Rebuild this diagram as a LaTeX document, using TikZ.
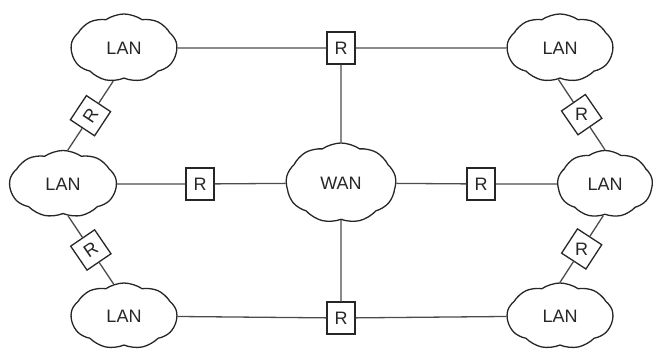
\documentclass[tikz,border=0pt]{standalone}
\usepackage{fontspec}
\setmainfont{Liberation Sans}
\usetikzlibrary{shapes.symbols,calc}
\begin{document}
\begin{tikzpicture}[x=1pt,y=1pt,
  lbl/.style={font=\fontsize{18}{19}\selectfont, text=black!85},
  cloudbox/.style={cloud, cloud puffs=9, cloud puff arc=70, cloud ignores aspect,
    draw=black!85, line width=1.3pt, fill=white, minimum width=106pt, minimum height=68pt,
    inner sep=0pt, lbl},
  router/.style={rectangle, draw=black!85, line width=1.3pt, fill=white,
    minimum width=28pt, minimum height=32pt, inner sep=0pt, lbl},
  drouter/.style={rectangle, draw=black!85, line width=1.3pt, fill=white,
    minimum size=29pt, inner sep=0pt, lbl},
  link/.style={draw=black!70, line width=1.3pt}]
\useasboundingbox (0,0) rectangle (655,350);
% clouds
\node[cloudbox] (lanTL) at (124,302) {LAN};
\node[cloudbox] (lanTR) at (560,302) {LAN};
\node[cloudbox, minimum width=107pt, minimum height=67pt] (lanML) at (63,166) {LAN};
\node[cloudbox, minimum width=95pt, minimum height=67pt] (lanMR) at (605,166) {LAN};
\node[cloudbox, minimum width=110pt, minimum height=80pt] (wan) at (341,167) {WAN};
\node[cloudbox, minimum height=66pt] (lanBL) at (124,34) {LAN};
\node[cloudbox, minimum height=66pt] (lanBR) at (560,34) {LAN};
% square routers
\node[router] (rT) at (341,302) {R};
\node[router] (rB) at (341,32) {R};
\node[router] (rL) at (200,166) {R};
\node[router] (rR) at (481,166) {R};
% diamond routers
\node[drouter, rotate=56.5] (dTL) at ($(lanTL.252)!0.5!(lanML.82)$) {R};
\node[drouter, rotate=34.3] (dBL) at ($(lanML.279)!0.5!(lanBL.108)$) {R};
\node[drouter, rotate=34.6] (dTR) at ($(lanTR.267)!0.5!(lanMR.90)$) {\rotatebox{-34.6}{R}};
\node[drouter, rotate=56.9] (dBR) at ($(lanMR.267)!0.5!(lanBR.90)$) {\rotatebox{-56.9}{R}};
% links
\draw[link] (lanTL) -- (rT) -- (lanTR);
\draw[link] (lanBL) -- (rB) -- (lanBR);
\draw[link] (lanML) -- (rL) -- (wan) -- (rR) -- (lanMR);
\draw[link] (rT) -- (wan) -- (rB);
\draw[link] (lanTL.252) -- (dTL) -- (lanML.82);
\draw[link] (lanML.279) -- (dBL) -- (lanBL.108);
\draw[link] (lanTR.267) -- (dTR) -- (lanMR.90);
\draw[link] (lanMR.267) -- (dBR) -- (lanBR.90);
\end{tikzpicture}
\end{document}
